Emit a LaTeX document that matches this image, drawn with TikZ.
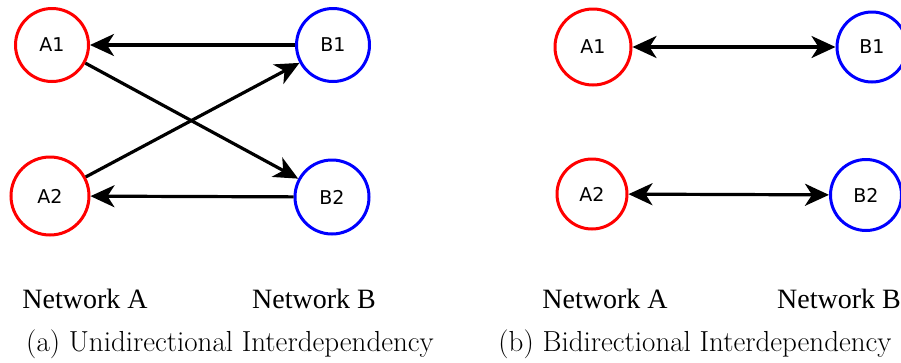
\documentclass[tikz,border=0pt]{standalone}
\usepackage{fontspec}
\usetikzlibrary{arrows.meta}
\newfontfamily\labelfont{DejaVu Sans}
\newfontfamily\netfont{Liberation Serif}
\begin{document}
\begin{tikzpicture}[x=1pt,y=-1pt,
  vertex/.style={circle,draw,line width=3pt,inner sep=0pt,
    minimum size=#1pt,font=\labelfont\fontsize{19}{19}\selectfont},
  avertex/.style={vertex=#1,draw={rgb,255:red,255;green,0;blue,0}},
  bvertex/.style={vertex=#1,draw={rgb,255:red,0;green,0;blue,255}},
  link/.style={line width=3.2pt,-{Stealth[length=24pt,width=22pt,inset=7pt]}},
  dlink/.style={line width=3.2pt,{Stealth[length=24pt,width=22pt,inset=7pt]}-{Stealth[length=24pt,width=22pt,inset=7pt]}},
  netlabel/.style={anchor=base,inner sep=0pt,font=\netfont\fontsize{28}{30}\selectfont},
  caption/.style={anchor=base,inner sep=0pt,font=\fontsize{29}{32}\selectfont}]
\useasboundingbox (0,0) rectangle (901,362);

% (a) unidirectional
\node[avertex=73] (a1) at (52,45) {A1};
\node[avertex=78] (a2) at (50,196) {A2};
\node[bvertex=73] (b1) at (333,45) {B1};
\node[bvertex=74] (b2) at (332,197) {B2};
\draw[link] (b1) -- (a1);
\draw[link] (a1) -- (b2);
\draw[link] (a2) -- (b1);
\draw[link] (b2) -- (a2);

% (b) bidirectional
\node[avertex=76] (c1) at (593,47) {A1};
\node[avertex=70] (c2) at (592,194) {A2};
\node[bvertex=70] (d1) at (872,47) {B1};
\node[bvertex=71] (d2) at (866,195) {B2};
\draw[dlink] (c1) -- (d1);
\draw[dlink] (c2) -- (d2);

% labels
\node[netlabel] (na1) at (85,308) {Network A};
\node[netlabel] (nb1) at (314,308) {Network B};
\node[netlabel] (na2) at (605,308) {Network A};
\node[netlabel] (nb2) at (839,308) {Network B};
\node[caption] (capa) at (230,351) {(a) Unidirectional Interdependency};
\node[caption] (capb) at (695,351) {(b) Bidirectional Interdependency};
\end{tikzpicture}
\end{document}
